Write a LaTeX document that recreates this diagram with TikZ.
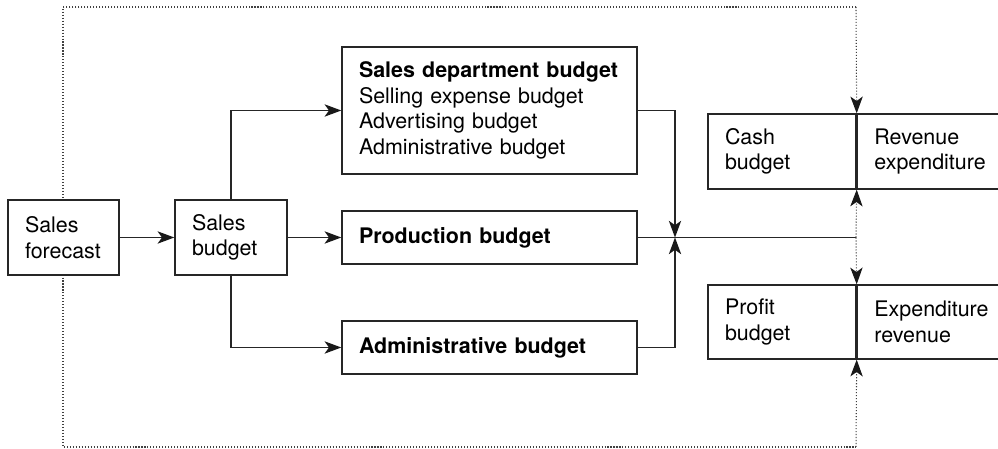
\documentclass[tikz,border=0pt]{standalone}
\usepackage{fontspec}
\setmainfont{TeX Gyre Heros}
\usetikzlibrary{positioning, arrows.meta}

\begin{document}
\begin{tikzpicture}[
      line width=0.8pt, draw=black!85,
      blk/.style={rectangle, draw=black!85, fill=white, inner xsep=0.34cm,
      inner ysep=0pt, align=left, font=\fontsize{12.2}{14.6}\selectfont},
      flow/.style={-{Stealth[length=9.5pt, width=7pt, inset=2.5pt,
      color=black!90]}},
      loop/.style={black!75, line width=0.6pt, dash pattern=on 0.6pt off 1.1pt}
    ]
    \useasboundingbox (0,0) rectangle (19.96,8.98);

    % Outer dotted loop
    \coordinate (tl) at (1.26,8.84);
    \coordinate (bl) at (1.26,0.04);
    \coordinate (tr) at (17.12,8.84);
    \coordinate (br) at (17.12,0.04);
    \draw[loop] (tr) -- (tl) -- (bl) -- (br);

    % Budgets
    \node[blk, text width=1.54cm, minimum height=1.5cm] (fc) at (1.27,4.23)
    {Sales\\forecast};
    \node[blk, text width=1.56cm, minimum height=1.5cm] (sb) at (4.62,4.23)
    {Sales\\budget};
    \node[blk, text width=5.22cm, minimum height=2.54cm] (sd) at (9.79,6.77)
    {\textbf{Sales department budget}\\Selling expense budget\\
    Advertising budget\\Administrative budget};
    \node[blk, text width=5.22cm, minimum height=1.06cm] (pb) at (9.79,4.23)
    {\textbf{Production budget}};
    \node[blk, text width=5.22cm, minimum height=1.06cm] (ab) at (9.79,2.03)
    {\textbf{Administrative budget}};

    % Cash and profit
    \node[blk, text width=2.28cm, minimum height=1.5cm] (cb) at (15.64,5.95)
    {Cash\\budget};
    \node[blk, text width=2.40cm, minimum height=1.5cm, anchor=west] (cr)
    at (cb.east) {Revenue\\expenditure};
    \node[blk, text width=2.28cm, minimum height=1.48cm] (pf) at (15.64,2.54)
    {Profit\\budget};
    \node[blk, text width=2.40cm, minimum height=1.48cm, anchor=west] (pe)
    at (pf.east) {Expenditure\\revenue};

    \coordinate (jn) at (13.5,4.23);
    \coordinate (sp) at (17.12,4.23);

    % Connectors
    \draw[flow] (fc) -- (sb);
    \draw[flow] (sb) -- (pb);
    \draw[flow] (sb.north) |- (sd.west);
    \draw[flow] (sb.south) |- (ab.west);
    \draw[flow] (sd.east) -| (jn);
    \draw[flow] (ab.east) -| (jn);
    \draw (pb.east) -- (sp);

    \draw[loop, flow] (sp) -- (cb.south east);
    \draw[loop, flow] (sp) -- (pf.north east);
    \draw[loop, flow] (tr) -- (cb.north east);
    \draw[loop, flow] (br) -- (pf.south east);
  \end{tikzpicture}
\end{document}
